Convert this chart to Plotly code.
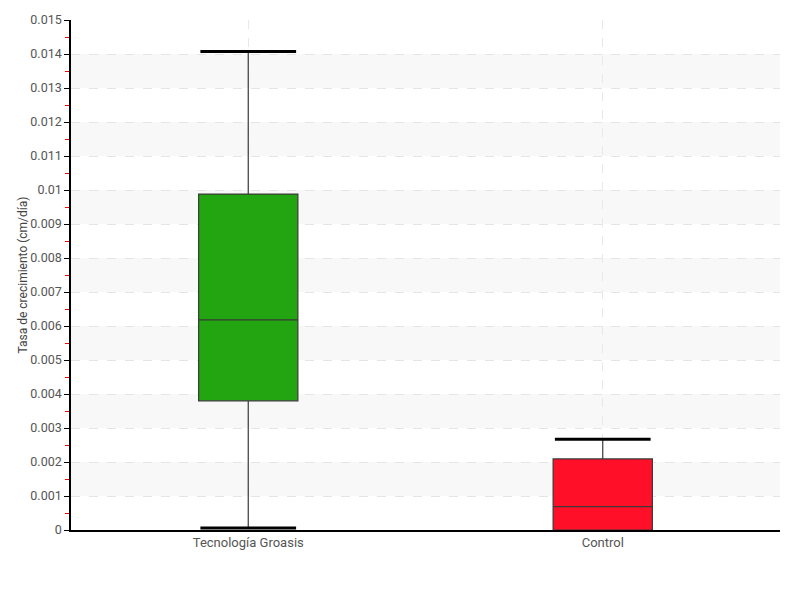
import plotly.graph_objects as go

categories = ["Tecnología Groasis", "Control"]
lowerfence = [0.00006, 0.0]
q1 = [0.0038, 0.0]
median = [0.00618, 0.00069]
q3 = [0.00988, 0.00209]
upperfence = [0.01407, 0.00267]
colors = ["#22a511", "#ff0f28"]
tick_vals = [i / 1000 for i in range(16)]
tick_text = ["0", "0.001", "0.002", "0.003", "0.004", "0.005", "0.006", "0.007",
             "0.008", "0.009", "0.01", "0.011", "0.012", "0.013", "0.014", "0.015"]

FONT = "Roboto, sans-serif"
xs = list(range(len(categories)))
box_w = 0.28
cap_half = 0.135

fig = go.Figure()
for i, cat in enumerate(categories):
    fig.add_trace(go.Box(
        x=[xs[i]], q1=[q1[i]], median=[median[i]], q3=[q3[i]],
        lowerfence=[lowerfence[i]], upperfence=[upperfence[i]],
        width=box_w, fillcolor=colors[i], whiskerwidth=0,
        line=dict(color="#3a3a3a", width=1.2), name=cat, showlegend=False,
        hoverinfo="skip",
    ))
    caps = [upperfence[i]] + ([lowerfence[i]] if lowerfence[i] < q1[i] else [])
    for v in caps:
        fig.add_trace(go.Scatter(
            x=[xs[i] - cap_half, xs[i] + cap_half], y=[v, v], mode="lines",
            line=dict(color="black", width=3), showlegend=False, hoverinfo="skip",
        ))

shapes = []
for k in range(1, 15, 2):
    shapes.append(dict(type="rect", xref="paper", yref="y", x0=0, x1=1,
                       y0=tick_vals[k], y1=tick_vals[k + 1],
                       fillcolor="#f8f8f8", line=dict(width=0), layer="below"))

fig.update_layout(
    width=800, height=600,
    margin=dict(l=63, r=28, t=12, b=78),
    plot_bgcolor="white", paper_bgcolor="white",
    font=dict(family=FONT, size=13, color="#555555"),
    shapes=shapes,
    xaxis=dict(range=[-0.5, 1.5], tickvals=xs, ticktext=categories,
               showgrid=True, gridcolor="#e8e8e8", griddash="dash",
               showline=True, linecolor="black", linewidth=1.5,
               ticks="", zeroline=False, automargin=False,
               tickfont=dict(size=13, color="#555555")),
    yaxis=dict(range=[0, 0.015], tickvals=tick_vals, ticktext=tick_text,
               showgrid=True, gridcolor="#e5e5e5", griddash="dash",
               showline=True, linecolor="black", linewidth=1.5,
               ticks="outside", ticklen=5, tickcolor="black",
               minor=dict(ticks="outside", dtick=0.0005, ticklen=4,
                          tickcolor="red", showgrid=False),
               zeroline=False, automargin=False,
               tickfont=dict(size=12.5, color="#555555"),
               title=dict(text="Tasa de crecimiento (cm/día)",
                          font=dict(size=12, color="#444444"), standoff=0)),
)

fig.write_html("out.html")
